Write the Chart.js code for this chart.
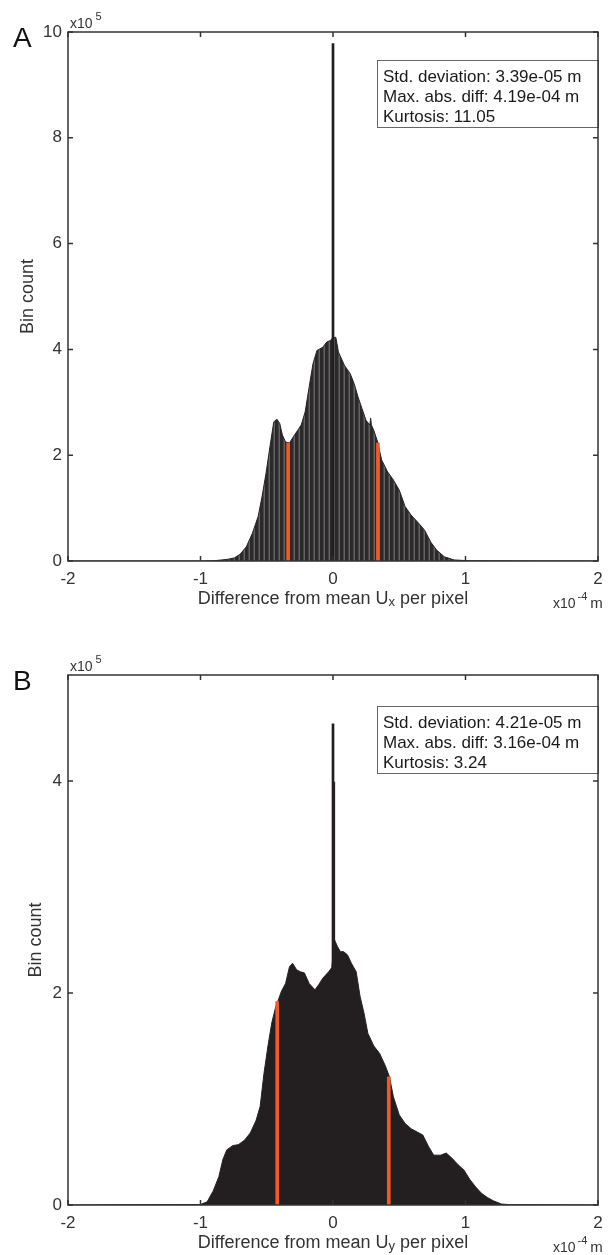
<!DOCTYPE html>
<html>
<head>
<meta charset="utf-8">
<script src="https://cdn.jsdelivr.net/npm/chart.js@4.4.0/dist/chart.umd.min.js"></script>
<style>
  html, body { margin: 0; padding: 0; background: #fff; }
  canvas { display: block; }
</style>
</head>
<body>
<canvas id="chartA" width="614" height="620"></canvas>
<canvas id="chartB" width="614" height="635"></canvas>
<script>
// tick values (x in 10^-4 m, counts in 10^5)
const xTicks = [-2, -1, 0, 1, 2];
const yTicksA = [0, 2, 4, 6, 8, 10];
const yTicksB = [0, 2, 4];

// panel A : Ux
const uxBins = [-2, -1, -0.9, -0.86, -0.8, -0.743, -0.7, -0.654, -0.609, -0.565, -0.536, -0.506, -0.476,
  -0.447, -0.423, -0.402, -0.382, -0.358, -0.328, -0.299, -0.269, -0.24, -0.21, -0.18, -0.151, -0.121,
  -0.077, -0.047, -0.018, -0.003, 0.021, 0.041, 0.086, 0.13, 0.16, 0.189, 0.219, 0.249, 0.278, 0.284,
  0.29, 0.308, 0.337, 0.367, 0.411, 0.456, 0.5, 0.544, 0.589, 0.648, 0.692, 0.737, 0.781, 0.84, 0.914,
  1.03, 1.5, 2];
const uxCounts = [0, 0, 0.005, 0.015, 0.03, 0.06, 0.13, 0.27, 0.52, 0.84, 1.21, 1.65, 2.16,
  2.63, 2.68, 2.6, 2.38, 2.25, 2.23, 2.35, 2.46, 2.57, 2.82, 3.29, 3.73, 3.98,
  4.04, 4.14, 4.17, 4.22, 4.23, 3.95, 3.7, 3.54, 3.35, 3.1, 2.88, 2.66, 2.57, 2.7,
  2.57, 2.47, 2.25, 1.91, 1.69, 1.53, 1.34, 1.03, 0.87, 0.71, 0.58, 0.36, 0.21, 0.08, 0.02,
  0.005, 0.002, 0];
const uxSpikeX = [0];
const uxSpikeCounts = [9.78];
const uxStdX = [-0.339, 0.339];
const uxStdCounts = [2.23, 2.23];
const uxStats = ["Std. deviation: 3.39e-05 m", "Max. abs. diff: 4.19e-04 m", "Kurtosis: 11.05"];

// panel B : Uy
const uyBins = [-2, -1.5, -1, -0.95, -0.905, -0.861, -0.831, -0.802, -0.757, -0.713, -0.669, -0.624,
  -0.58, -0.55, -0.521, -0.491, -0.462, -0.432, -0.417, -0.388, -0.358, -0.328, -0.305, -0.275, -0.246,
  -0.216, -0.18, -0.136, -0.107, -0.077, -0.033, -0.009, 0.012, 0.033, 0.056, 0.08, 0.109, 0.139,
  0.175, 0.204, 0.234, 0.263, 0.308, 0.352, 0.396, 0.426, 0.456, 0.5, 0.544, 0.589, 0.633, 0.678,
  0.722, 0.76, 0.811, 0.855, 0.899, 0.944, 0.988, 1.033, 1.077, 1.121, 1.166, 1.21, 1.27, 1.33, 2];
const uyCounts = [0, 0.003, 0.005, 0.03, 0.13, 0.27, 0.43, 0.52, 0.56, 0.57, 0.61, 0.68,
  0.8, 0.93, 1.24, 1.5, 1.72, 1.87, 1.92, 2.02, 2.09, 2.25, 2.28, 2.22, 2.2,
  2.19, 2.09, 2.03, 2.08, 2.14, 2.2, 2.24, 2.5, 2.44, 2.39, 2.39, 2.36, 2.28,
  2.2, 1.97, 1.81, 1.62, 1.5, 1.43, 1.31, 1.21, 1.02, 0.85, 0.77, 0.72, 0.69, 0.66,
  0.55, 0.47, 0.47, 0.49, 0.44, 0.38, 0.33, 0.24, 0.17, 0.11, 0.07, 0.04, 0.01, 0.003, 0];
const uySpikeX = [0, 0.006];
const uySpikeCounts = [4.54, 3.99];
const uyStdX = [-0.421, 0.421];
const uyStdCounts = [1.92, 1.21];
const uyStats = ["Std. deviation: 4.21e-05 m", "Max. abs. diff: 3.16e-04 m", "Kurtosis: 3.24"];

const FONT = "'Liberation Sans', Arial, Helvetica, sans-serif";
const TXT = '#333';

function toPts(xs, ys) {
  return xs.map((x, i) => ({ x: x, y: ys[i] }));
}

// grey vertical stripes like the exported histogram in A
function stripePattern(ctx) {
  const c = document.createElement('canvas');
  c.width = 5; c.height = 1;
  const g = c.getContext('2d');
  ['#2c292a', '#2c292a', '#2e2b2c', '#484546', '#646263'].forEach((col, i) => {
    g.fillStyle = col;
    g.fillRect(i, 0, 1, 1);
  });
  return ctx.createPattern(c, 'repeat');
}

function decor(p) {
  return {
    id: 'decor',
    afterDraw(chart) {
      const { ctx, chartArea: a, scales: { x, y } } = chart;
      ctx.save();

      // stats box
      const bx = a.left + 309, by = a.top + p.boxTop;
      ctx.fillStyle = '#fff';
      ctx.fillRect(bx, by, a.right - bx, 68);
      ctx.strokeStyle = '#666';
      ctx.lineWidth = 1;
      ctx.strokeRect(bx + 0.5, by + 0.5, a.right - bx, 67);
      ctx.fillStyle = '#1a1a1a';
      ctx.font = '17px ' + FONT;
      ctx.textAlign = 'left';
      ctx.textBaseline = 'alphabetic';
      p.stats.forEach((s, i) => ctx.fillText(s, bx + 6, by + 22 + i * 20));

      // axes box with inward ticks
      ctx.strokeStyle = '#333';
      ctx.lineWidth = 1.5;
      ctx.strokeRect(a.left, a.top, a.right - a.left, a.bottom - a.top);
      ctx.beginPath();
      x.ticks.forEach(t => {
        const px = x.getPixelForValue(t.value);
        ctx.moveTo(px, a.bottom); ctx.lineTo(px, a.bottom - 5);
        ctx.moveTo(px, a.top); ctx.lineTo(px, a.top + 5);
      });
      y.ticks.forEach(t => {
        const py = y.getPixelForValue(t.value);
        ctx.moveTo(a.left, py); ctx.lineTo(a.left + 5, py);
        ctx.moveTo(a.right, py); ctx.lineTo(a.right - 5, py);
      });
      ctx.stroke();

      // panel letter
      ctx.font = '28px ' + FONT;
      ctx.fillStyle = '#111';
      ctx.fillText(p.letter, 13, a.top + 15);

      // y exponent
      ctx.fillStyle = TXT;
      ctx.font = '14px ' + FONT;
      ctx.fillText('x10', a.left + 2, a.top - 4);
      const w = ctx.measureText('x10').width;
      ctx.font = '11px ' + FONT;
      ctx.fillText('5', a.left + 2 + w + 3, a.top - 12);

      // x exponent
      let ex = a.right - 45;
      const eb = a.bottom + 47;
      ctx.font = '14px ' + FONT;
      ctx.fillText('x10', ex, eb);
      ex += ctx.measureText('x10').width + 2;
      ctx.font = '11px ' + FONT;
      ctx.fillText('-4', ex, eb - 8);
      ex += ctx.measureText('-4').width + 3;
      ctx.font = '15px ' + FONT;
      ctx.fillText('m', ex, eb);

      // x title with subscript
      const t1 = 'Difference from mean U', t2 = p.sub, t3 = ' per pixel';
      ctx.font = '18px ' + FONT;
      const w1 = ctx.measureText(t1).width, w3 = ctx.measureText(t3).width;
      ctx.font = '13px ' + FONT;
      const w2 = ctx.measureText(t2).width;
      const tx = (a.left + a.right) / 2 - (w1 + w2 + w3) / 2;
      const tb = a.bottom + 43;
      ctx.font = '18px ' + FONT;
      ctx.fillText(t1, tx, tb);
      ctx.font = '13px ' + FONT;
      ctx.fillText(t2, tx + w1, tb + 2);
      ctx.font = '18px ' + FONT;
      ctx.fillText(t3, tx + w1 + w2, tb);

      // y title
      ctx.translate(p.yTitleX, (a.top + a.bottom) / 2);
      ctx.rotate(-Math.PI / 2);
      ctx.textAlign = 'center';
      ctx.textBaseline = 'middle';
      ctx.font = '18px ' + FONT;
      ctx.fillText('Bin count', 0, 0);

      ctx.restore();
    }
  };
}

function histChart(id, p) {
  const ctx = document.getElementById(id).getContext('2d');
  return new Chart(ctx, {
    type: 'line',
    data: {
      datasets: [
        {
          type: 'bar', data: toPts(p.stdX, p.stdY), backgroundColor: '#f15a24',
          barThickness: 3, grouped: false, order: 0
        },
        {
          type: 'bar', data: toPts(p.spikeX, p.spikeY), backgroundColor: '#231f20',
          barThickness: 2, grouped: false, order: 1
        },
        {
          type: 'line', data: toPts(p.bins, p.counts), borderColor: '#262223', borderWidth: 1,
          backgroundColor: p.fill, fill: 'origin', pointRadius: 0, tension: 0, order: 2
        }
      ]
    },
    options: {
      responsive: false,
      animation: false,
      devicePixelRatio: 1,
      layout: { padding: { top: p.top, right: 16, left: 0, bottom: 0 } },
      plugins: { legend: { display: false }, tooltip: { enabled: false } },
      scales: {
        x: {
          type: 'linear', min: -2, max: 2, offset: false,
          afterBuildTicks: s => { s.ticks = xTicks.map(v => ({ value: v })); },
          afterFit: s => { s.height = p.xAxisH; },
          grid: { display: false, drawTicks: false, offset: false },
          border: { display: false },
          ticks: { padding: 8, color: TXT, font: { size: 17, family: FONT }, callback: v => String(v) }
        },
        y: {
          type: 'linear', min: 0, max: p.yMax,
          afterBuildTicks: s => { s.ticks = p.yTicks.map(v => ({ value: v })); },
          afterFit: s => { s.width = 68; },
          grid: { display: false, drawTicks: false },
          border: { display: false },
          ticks: { padding: 6, color: TXT, font: { size: 17, family: FONT }, callback: v => String(v) }
        }
      }
    },
    plugins: [decor(p)]
  });
}

const ctxA = document.getElementById('chartA').getContext('2d');
histChart('chartA', {
  letter: 'A', sub: 'x', stats: uxStats, boxTop: 28, yTitleX: 28,
  bins: uxBins, counts: uxCounts, spikeX: uxSpikeX, spikeY: uxSpikeCounts,
  stdX: uxStdX, stdY: uxStdCounts, yMax: 10, yTicks: yTicksA,
  top: 32, xAxisH: 59, fill: stripePattern(ctxA)
});

histChart('chartB', {
  letter: 'B', sub: 'y', stats: uyStats, boxTop: 31, yTitleX: 36,
  bins: uyBins, counts: uyCounts, spikeX: uySpikeX, spikeY: uySpikeCounts,
  stdX: uyStdX, stdY: uyStdCounts, yMax: 5, yTicks: yTicksB,
  top: 55, xAxisH: 50, fill: '#231f20'
});
</script>
</body>
</html>
